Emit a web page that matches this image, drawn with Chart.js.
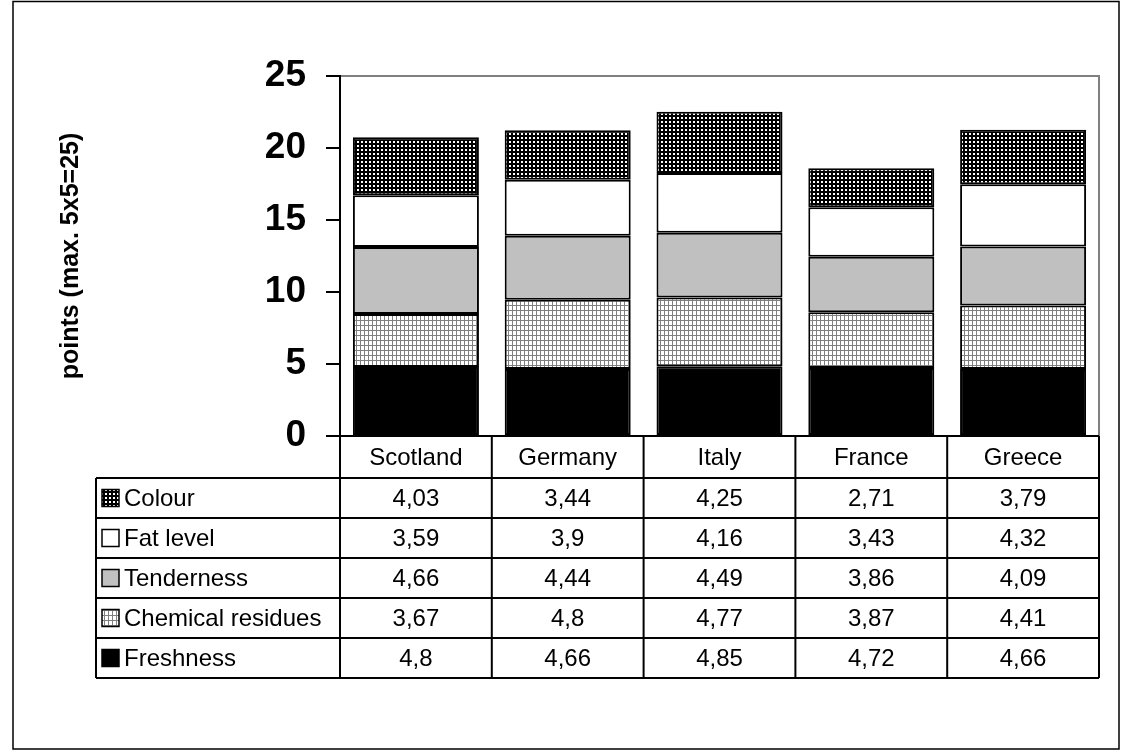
<!DOCTYPE html>
<html>
<head>
<meta charset="utf-8">
<script src="https://cdn.jsdelivr.net/npm/chart.js@4.4.1/dist/chart.umd.min.js"></script>
<style>
  html, body { margin: 0; padding: 0; background: #fff; }
  canvas { display: block; }
</style>
</head>
<body>
<canvas id="chart" width="1121" height="751"></canvas>
<script>
// Category labels and the five stacked series (points out of 5 each)
const countries = ['Scotland', 'Germany', 'Italy', 'France', 'Greece'];
const freshness = [4.8, 4.66, 4.85, 4.72, 4.66];
const chemicalResidues = [3.67, 4.8, 4.77, 3.87, 4.41];
const tenderness = [4.66, 4.44, 4.49, 3.86, 4.09];
const fatLevel = [3.59, 3.9, 4.16, 3.43, 4.32];
const colour = [4.03, 3.44, 4.25, 2.71, 3.79];
const yTickValues = [0, 5, 10, 15, 20, 25];
const yAxisTitle = 'points (max. 5x5=25)';

const FONT = '"Liberation Sans", Arial, sans-serif';
const canvas = document.getElementById('chart');
const ctx0 = canvas.getContext('2d');

// Hatch fills built from small repeating tiles
function tilePattern(w, h, paint) {
  const t = document.createElement('canvas');
  t.width = w; t.height = h;
  paint(t.getContext('2d'));
  return ctx0.createPattern(t, 'repeat');
}
const dottedBlack = tilePattern(4, 4, g => {
  g.fillStyle = '#000'; g.fillRect(0, 0, 4, 4);
  g.fillStyle = '#fff'; g.fillRect(1, 1, 2, 2);
});
const fineGrid = tilePattern(4, 5, g => {
  g.fillStyle = '#fff'; g.fillRect(0, 0, 4, 5);
  g.fillStyle = '#808080'; g.fillRect(0, 0, 4, 1); g.fillRect(0, 0, 1, 5);
});

// Bottom-to-top stacking order
const series = [
  { label: 'Freshness', data: freshness, fill: '#000000' },
  { label: 'Chemical residues', data: chemicalResidues, fill: fineGrid },
  { label: 'Tenderness', data: tenderness, fill: '#c0c0c0' },
  { label: 'Fat level', data: fatLevel, fill: '#ffffff' },
  { label: 'Colour', data: colour, fill: dottedBlack }
];

const fmt = v => String(v).replace('.', ',');

// Outer frame and plot-area outline
const framePlugin = {
  id: 'frame',
  beforeDraw(chart) {
    const { ctx, width, height, chartArea: a } = chart;
    ctx.save();
    ctx.fillStyle = '#fff';
    ctx.fillRect(0, 0, width, height);
    ctx.strokeStyle = '#000';
    ctx.lineWidth = 1.5;
    ctx.strokeRect(13, 1.5, width - 15, height - 3.5);
    ctx.strokeStyle = '#808080';
    ctx.lineWidth = 2;
    ctx.beginPath();
    ctx.moveTo(a.left, a.top);
    ctx.lineTo(a.right, a.top);
    ctx.lineTo(a.right, a.bottom);
    ctx.stroke();
    ctx.restore();
  }
};

// Data table under the plot: header row of categories, one row per series
const tablePlugin = {
  id: 'dataTable',
  afterDraw(chart) {
    const { ctx, chartArea: a, scales: { x } } = chart;
    const n = countries.length;
    const colW = a.width / n;
    const headerH = 42;
    const rowH = 40;
    const labelLeft = 96;
    const rows = series.slice().reverse();
    const top = a.bottom;
    const bodyTop = top + headerH;
    const bottom = bodyTop + rows.length * rowH;

    ctx.save();
    ctx.strokeStyle = '#000';
    ctx.lineWidth = 2;
    ctx.beginPath();
    // axis line / header top
    ctx.moveTo(a.left - 14, top); ctx.lineTo(a.right, top);
    // row separators
    for (let r = 0; r <= rows.length; r++) {
      const y = bodyTop + r * rowH;
      ctx.moveTo(labelLeft, y); ctx.lineTo(a.right, y);
    }
    // label column left edge
    ctx.moveTo(labelLeft, bodyTop); ctx.lineTo(labelLeft, bottom);
    // column edges
    for (let i = 0; i <= n; i++) {
      const xe = i < n ? x.getPixelForValue(i) - colW / 2 : x.getPixelForValue(n - 1) + colW / 2;
      ctx.moveTo(xe, top); ctx.lineTo(xe, bottom);
    }
    ctx.stroke();

    ctx.fillStyle = '#000';
    ctx.font = '24px ' + FONT;
    ctx.textBaseline = 'middle';
    ctx.textAlign = 'center';
    countries.forEach((c, i) => {
      ctx.fillText(c, x.getPixelForValue(i), top + headerH / 2 + 1);
    });
    rows.forEach((s, r) => {
      const cy = bodyTop + r * rowH + rowH / 2 + 1;
      ctx.textAlign = 'center';
      s.data.forEach((v, i) => ctx.fillText(fmt(v), x.getPixelForValue(i), cy));
      // legend key
      const k = 17;
      const kx = labelLeft + 6, ky = cy - k / 2 - 1;
      ctx.fillStyle = s.fill;
      ctx.fillRect(kx, ky, k, k);
      ctx.lineWidth = 1.5;
      ctx.strokeRect(kx, ky, k, k);
      ctx.fillStyle = '#000';
      ctx.textAlign = 'left';
      ctx.fillText(s.label, kx + k + 5, cy);
    });
    ctx.restore();
  }
};

new Chart(canvas, {
  type: 'bar',
  data: {
    labels: countries,
    datasets: series.map(s => ({
      label: s.label,
      data: s.data,
      backgroundColor: s.fill,
      borderColor: '#000',
      borderWidth: 2,
      borderSkipped: false,
      barPercentage: 0.83,
      categoryPercentage: 1
    }))
  },
  options: {
    responsive: false,
    animation: false,
    events: [],
    layout: { padding: { left: 0, top: 76, right: 22, bottom: 315 } },
    plugins: { legend: { display: false }, tooltip: { enabled: false } },
    scales: {
      x: { stacked: true, display: false },
      y: {
        stacked: true,
        min: 0,
        max: 25,
        afterFit(scale) { scale.width = 340; },
        afterBuildTicks(scale) { scale.ticks = yTickValues.map(v => ({ value: v })); },
        border: { display: true, color: '#000', width: 2 },
        grid: { drawOnChartArea: false, drawTicks: true, tickLength: 14, color: '#000', lineWidth: 2 },
        ticks: { color: '#000', padding: 20, font: { family: FONT, size: 37, weight: 'bold' } },
        title: {
          display: true,
          text: yAxisTitle,
          color: '#000',
          padding: { top: 56, bottom: 0 },
          font: { family: FONT, size: 25, weight: 'bold' }
        }
      }
    }
  },
  plugins: [framePlugin, tablePlugin]
});
</script>
</body>
</html>
